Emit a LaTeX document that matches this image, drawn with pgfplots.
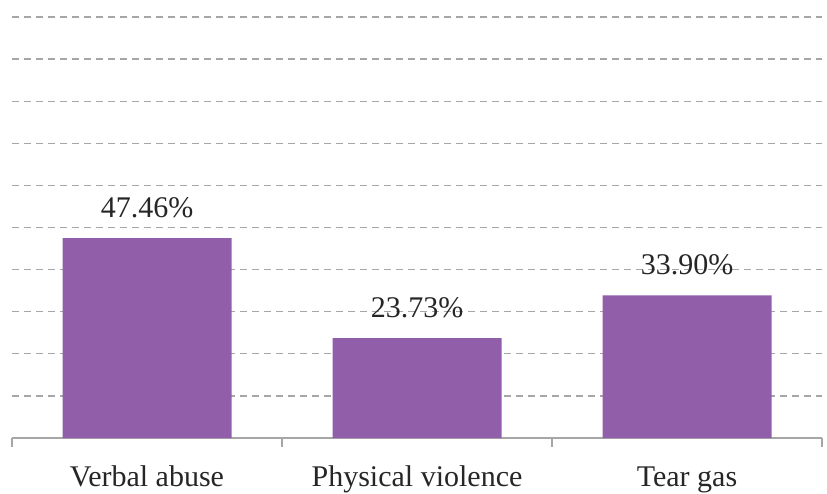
\documentclass[border=0pt]{standalone}
\usepackage{pgfplots}
\pgfplotsset{compat=1.18}
\usepackage{fontspec}
\setmainfont{Liberation Serif}
\definecolor{barpurple}{HTML}{915EAA}
\definecolor{gridgray}{HTML}{A6A6A6}

\begin{document}
\begin{tikzpicture}
\begin{axis}[
  name=a,
  scale only axis,
  width=810pt,height=421pt,
  xmin=-0.5,xmax=2.5,ymin=0,ymax=100,
  axis x line*=bottom,axis y line*=left,
  x axis line style={draw=gridgray,line width=1.2pt},
  y axis line style={draw=none},
  xtick={0,1,2},
  xticklabels={Verbal abuse,Physical violence,Tear gas},
  minor xtick={-0.5,0.5,1.5,2.5},
  major tick length=0pt,minor tick length=9pt,
  tick align=outside,
  minor x tick style={draw=gridgray,line width=1.2pt},
  xticklabel style={font=\fontsize{30}{36}\selectfont,anchor=base,yshift=-48pt,text=black!85},
  ytick={10,20,...,100},yticklabels={},
  ytick style={draw=none},
  ymajorgrids,
  major grid style={draw=gridgray,line width=1.2pt,dash pattern=on 7pt off 5pt},
  ybar,bar width=169pt,
  /pgf/number format/assume math mode=true,
  nodes near coords={\pgfmathprintnumber[fixed,fixed zerofill,precision=2]{\pgfplotspointmeta}\%},
  every node near coord/.append style={font=\fontsize{30}{36}\selectfont,anchor=base,yshift=21pt,text=black!85},
]
\addplot[fill=barpurple,draw=none] coordinates {(0,47.46) (1,23.73) (2,33.90)};
\end{axis}
\pgfresetboundingbox
\path[use as bounding box] ([xshift=-12pt,yshift=-55pt]a.south west) rectangle ([xshift=5pt,yshift=17pt]a.north east);
\end{tikzpicture}
\end{document}
